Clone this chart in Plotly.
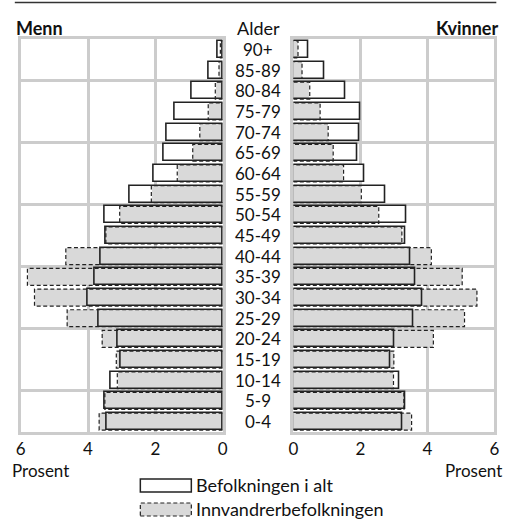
import plotly.graph_objects as go
from plotly.subplots import make_subplots

# Age groups, bottom (0-4) to top (90+)
ages = ["0-4", "5-9", "10-14", "15-19", "20-24", "25-29", "30-34", "35-39",
        "40-44", "45-49", "50-54", "55-59", "60-64", "65-69", "70-74",
        "75-79", "80-84", "85-89", "90+"]

men_total = [3.44, 3.51, 3.34, 3.04, 3.12, 3.67, 4.00, 3.79, 3.61, 3.49,
             3.50, 2.77, 2.06, 1.74, 1.66, 1.42, 0.91, 0.43, 0.15]
men_imm = [3.67, 3.50, 3.13, 3.16, 3.58, 4.62, 5.59, 5.80, 4.66, 3.47,
           3.06, 2.12, 1.35, 0.89, 0.68, 0.43, 0.22, 0.11, 0.07]
women_total = [3.26, 3.33, 3.17, 2.90, 3.01, 3.59, 3.84, 3.63, 3.49, 3.34,
               3.36, 2.74, 2.13, 1.92, 1.98, 2.00, 1.56, 0.92, 0.44]
women_imm = [3.53, 3.30, 2.99, 3.00, 4.18, 5.11, 5.48, 5.04, 4.12, 3.24,
             2.55, 2.03, 1.50, 1.19, 1.04, 0.80, 0.49, 0.26, 0.14]

x_ticks = [0, 2, 4, 6]
legend_labels = ["Befolkningen i alt", "Innvandrerbefolkningen"]

FONT = "Lato"
FS = 18
FS_SMALL = 17
FS_AGE = 17
GRID = "#cccccc"
FILL = "#d9d9d9"
EDGE = "#222222"
BW = 0.82
W, H = 517, 523

ypos = list(range(len(ages)))


def dashed_outline(vals):
    xs, ys = [], []
    for y, v in zip(ypos, vals):
        xs += [0, v, v, 0, None]
        ys += [y - BW / 2, y - BW / 2, y + BW / 2, y + BW / 2, None]
    return xs, ys


fig = make_subplots(rows=1, cols=2, horizontal_spacing=0.1)

for col, tot, imm in [(1, men_total, men_imm), (2, women_total, women_imm)]:
    fig.add_trace(go.Bar(x=tot, y=ypos, orientation="h", width=BW,
                         marker=dict(color="white", line=dict(width=0)),
                         showlegend=False, hoverinfo="skip"), row=1, col=col)
    fig.add_trace(go.Bar(x=imm, y=ypos, orientation="h", width=BW,
                         marker=dict(color=FILL, line=dict(width=0)),
                         showlegend=False, hoverinfo="skip"), row=1, col=col)
    xs, ys = dashed_outline(imm)
    fig.add_trace(go.Scatter(x=xs, y=ys, mode="lines",
                             line=dict(color=EDGE, width=1.2, dash="4px,2.5px"),
                             showlegend=False, hoverinfo="skip"), row=1, col=col)
    fig.add_trace(go.Bar(x=tot, y=ypos, orientation="h", width=BW,
                         marker=dict(color="rgba(0,0,0,0)", line=dict(width=1.6, color=EDGE)),
                         showlegend=False, hoverinfo="skip"), row=1, col=col)

x1 = [16 / W, 222 / W]
x2 = [294 / W, 499 / W]
ydom = [1 - 432 / H, 1 - 39 / H]

axis_common = dict(showgrid=True, gridcolor=GRID, gridwidth=3, showline=True,
                   linecolor=GRID, linewidth=3, mirror=True, zeroline=False,
                   ticks="", layer="below traces",
                   tickfont=dict(family=FONT, size=FS_SMALL, color="#111"))

fig.update_xaxes(domain=x1, range=[6, 0], tickvals=x_ticks, **axis_common, row=1, col=1)
fig.update_xaxes(domain=x2, range=[0, 6], tickvals=x_ticks, **axis_common, row=1, col=2)
for c in (1, 2):
    fig.update_yaxes(domain=ydom, range=[-0.5, len(ages) - 0.5], tick0=1.5, dtick=3,
                     showticklabels=False, **axis_common, row=1, col=c)

annotations = []
txt = dict(family=FONT, size=FS, color="#111")
txt_small = dict(family=FONT, size=FS_SMALL, color="#111")
txt_age = dict(family=FONT, size=FS_AGE, color="#111")
for y, a in zip(ypos, ages):
    annotations.append(dict(x=258 / W, y=y, xref="paper", yref="y2", text=a,
                            showarrow=False, xanchor="center", yanchor="middle",
                            borderpad=0, font=txt_age))
annotations += [
    dict(x=258 / W, y=1 - 28 / H, xref="paper", yref="paper", text="Alder",
         showarrow=False, xanchor="center", yanchor="middle", borderpad=0, font=txt),
    dict(x=9 / W, y=1 - 28 / H, xref="paper", yref="paper", text="<b>Menn</b>",
         showarrow=False, xanchor="left", yanchor="middle", font=txt),
    dict(x=505 / W, y=1 - 28 / H, xref="paper", yref="paper", text="<b>Kvinner</b>",
         showarrow=False, xanchor="right", yanchor="middle", font=txt),
    dict(x=6 / W, y=1 - 470 / H, xref="paper", yref="paper", text="Prosent",
         showarrow=False, xanchor="left", yanchor="middle", borderpad=0, font=txt_small),
    dict(x=508 / W, y=1 - 470 / H, xref="paper", yref="paper", text="Prosent",
         showarrow=False, xanchor="right", yanchor="middle", borderpad=0, font=txt_small),
    dict(x=194 / W, y=1 - 485 / H, xref="paper", yref="paper", text=legend_labels[0],
         showarrow=False, xanchor="left", yanchor="middle", borderpad=0, font=txt),
    dict(x=194 / W, y=1 - 509 / H, xref="paper", yref="paper", text=legend_labels[1],
         showarrow=False, xanchor="left", yanchor="middle", borderpad=0, font=txt),
]

shapes = [
    dict(type="line", xref="paper", yref="paper", x0=10 / W, x1=501 / W,
         y0=1 - 2.5 / H, y1=1 - 2.5 / H, line=dict(color="#333", width=1.5)),
    dict(type="rect", xref="paper", yref="paper", x0=138 / W, x1=190 / W,
         y0=1 - 492 / H, y1=1 - 479 / H, fillcolor="white",
         line=dict(color=EDGE, width=1.5)),
    dict(type="rect", xref="paper", yref="paper", x0=138 / W, x1=190 / W,
         y0=1 - 516 / H, y1=1 - 503 / H, fillcolor=FILL,
         line=dict(color=EDGE, width=1.2, dash="4px,2.5px")),
]

fig.update_layout(width=W, height=H, margin=dict(l=0, r=0, t=0, b=0),
                  paper_bgcolor="white", plot_bgcolor="white", barmode="overlay",
                  bargap=0, annotations=annotations, shapes=shapes,
                  font=dict(family=FONT, size=FS, color="#111"))

fig.write_html("out.html", config={"displayModeBar": False},
               post_script="document.body.style.margin='0';document.body.style.overflow='hidden';")
